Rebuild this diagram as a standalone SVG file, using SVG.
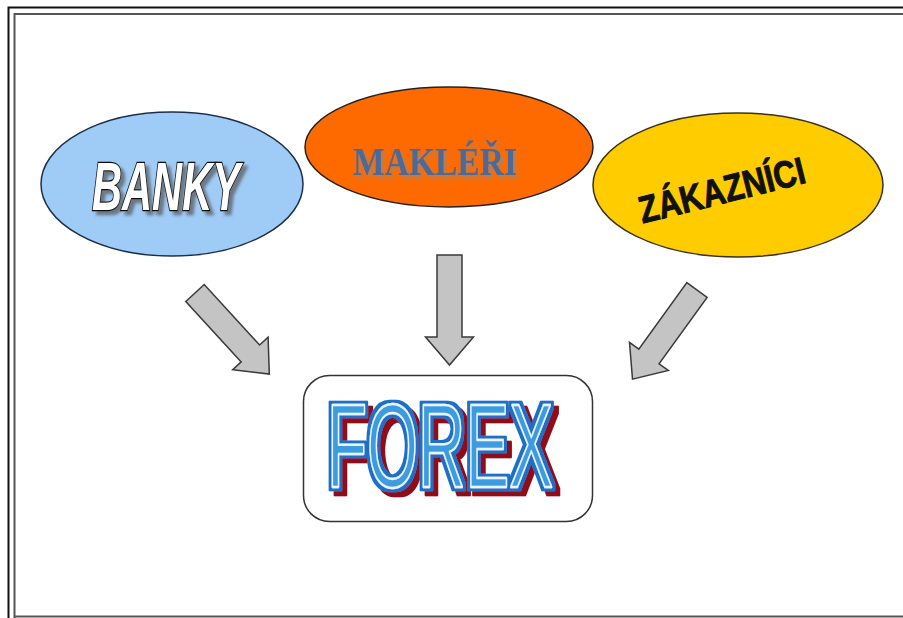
<svg xmlns="http://www.w3.org/2000/svg" width="903" height="618" viewBox="0 0 903 618">
<defs>
<style>
.arrow{fill:#c4c4c4;stroke:#3a3a3a;stroke-width:1.5;stroke-linejoin:miter}
.ell{stroke-width:1.5}
</style>
<filter id="shBanky" x="-20%" y="-30%" width="140%" height="160%">
<feGaussianBlur in="SourceAlpha" stdDeviation="1.6" result="b"/>
<feOffset in="b" dx="4" dy="4" result="o"/>
<feFlood flood-color="#555" flood-opacity="0.7"/>
<feComposite in2="o" operator="in" result="s"/>
<feMerge><feMergeNode in="s"/><feMergeNode in="SourceGraphic"/></feMerge>
</filter>
<filter id="shMak" x="-20%" y="-30%" width="140%" height="170%">
<feGaussianBlur in="SourceAlpha" stdDeviation="1.6" result="b"/>
<feOffset in="b" dx="3" dy="4" result="o"/>
<feFlood flood-color="#8a8a8a" flood-opacity="0.6"/>
<feComposite in2="o" operator="in" result="s"/>
<feMerge><feMergeNode in="s"/><feMergeNode in="SourceGraphic"/></feMerge>
</filter>
<filter id="fxForex" x="-10%" y="-20%" width="120%" height="140%">
<feMorphology in="SourceAlpha" operator="dilate" radius="2.5" result="d"/>
<feFlood flood-color="#1f6fc8"/>
<feComposite in2="d" operator="in" result="outline"/>
<feOffset in="d" dx="5" dy="5" result="od"/>
<feFlood flood-color="#8e0f16"/>
<feComposite in2="od" operator="in" result="red"/>
<feMerge><feMergeNode in="red"/><feMergeNode in="outline"/><feMergeNode in="SourceGraphic"/></feMerge>
</filter>
<path id="arr" d="M-12.5,0 L12.5,0 L12.5,82 L24,82 L0,110 L-24,82 L-12.5,82 Z"/>
</defs>
<rect width="903" height="618" fill="#ffffff"/>
<g id="frame" fill="none">
<polyline points="8.5,618 8.5,7.5 903,7.5" stroke="#111" stroke-width="2"/>
<polyline points="14.5,618 14.5,14 903,14" stroke="#555" stroke-width="2"/>
<line x1="14" y1="616.5" x2="903" y2="616.5" stroke="#555" stroke-width="2"/>
</g>
<g id="connectors">
<use href="#arr" class="arrow" transform="translate(195,293) rotate(-42.5)"/>
<use href="#arr" class="arrow" transform="translate(449.5,255)"/>
<use href="#arr" class="arrow" transform="translate(697,290) rotate(35.9)"/>
</g>
<g id="banky">
<ellipse class="ell" cx="172" cy="184" rx="131" ry="72" fill="#9fcbf7" stroke="#1c2f4a"/>
<text x="166" y="210" text-anchor="middle" font-family="Liberation Sans, Arial, sans-serif" font-weight="bold" font-style="italic" font-size="68" textLength="148" lengthAdjust="spacingAndGlyphs" fill="#ffffff" stroke="#111" stroke-width="2.5" paint-order="stroke" filter="url(#shBanky)">BANKY</text>
</g>
<g id="makleri">
<ellipse class="ell" cx="449" cy="147" rx="144" ry="60" fill="#ff6a00" stroke="#222"/>
<text x="435" y="175" text-anchor="middle" font-family="Liberation Serif, Times New Roman, serif" font-weight="bold" font-size="41" textLength="164" lengthAdjust="spacingAndGlyphs" fill="#4b6a98" filter="url(#shMak)">MAKLÉŘI</text>
</g>
<g id="zakaznici">
<ellipse class="ell" cx="738" cy="185" rx="145" ry="72" fill="#ffcc00" stroke="#3a3220"/>
<text x="0" y="0" text-anchor="middle" font-family="Liberation Sans, Arial, sans-serif" font-weight="bold" font-size="38" textLength="170" lengthAdjust="spacingAndGlyphs" fill="#111" stroke="#111" stroke-width="1" transform="translate(725,203) rotate(-14)">ZÁKAZNÍCI</text>
</g>
<g id="forex">
<rect x="303.5" y="375.5" width="289" height="146" rx="26" ry="26" fill="#ffffff" stroke="#333" stroke-width="1.5"/>
<text x="440" y="487" text-anchor="middle" font-family="Liberation Sans, Arial, sans-serif" font-size="118" textLength="226" lengthAdjust="spacingAndGlyphs" fill="#3d9be0" stroke="#e8f4ff" stroke-width="2.5" stroke-linejoin="round" filter="url(#fxForex)">FOREX</text>
</g>
</svg>
